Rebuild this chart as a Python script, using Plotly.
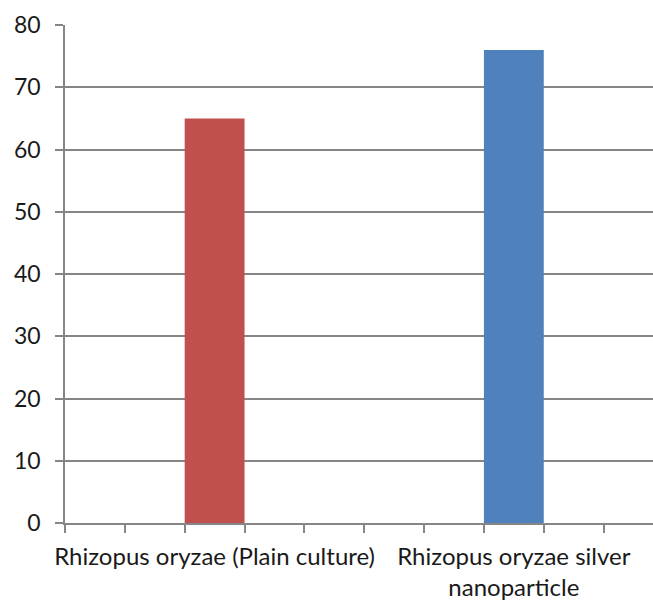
import plotly.graph_objects as go

categories = ["Rhizopus oryzae (Plain culture)", "Rhizopus oryzae silver nanoparticle"]
tick_labels = ["Rhizopus oryzae (Plain culture)", "Rhizopus oryzae silver<br>nanoparticle"]
values = [65, 76]
bar_colors = ["#C0504D", "#4F81BD"]
y_ticks = [0, 10, 20, 30, 40, 50, 60, 70, 80]

positions = list(range(len(categories)))

fig = go.Figure(
    go.Bar(
        x=positions,
        y=values,
        marker=dict(color=bar_colors, line=dict(width=0)),
        width=0.2,
        hovertext=categories,
    )
)

axis_col = "#868686"
font_col = "#1a1a1a"

fig.update_layout(
    width=653,
    height=602,
    margin=dict(l=65, r=0, t=25, b=79),
    paper_bgcolor="white",
    plot_bgcolor="white",
    showlegend=False,
    font=dict(family="Lato", size=24, color=font_col),
    xaxis=dict(
        range=[-0.5, 1.465],
        tickmode="array",
        tickvals=positions,
        ticktext=tick_labels,
        ticks="",
        showgrid=False,
        zeroline=False,
        showline=True,
        linecolor=axis_col,
        linewidth=1.5,
        automargin=False,
        ticklabelstandoff=11,
        tickfont=dict(family="Lato", size=24, color=font_col),
        minor=dict(
            tickmode="linear",
            tick0=-0.5,
            dtick=0.2,
            ticks="outside",
            ticklen=8,
            tickwidth=1.5,
            tickcolor=axis_col,
            showgrid=False,
        ),
    ),
    yaxis=dict(
        range=[0, 80],
        tickmode="array",
        tickvals=y_ticks,
        ticks="outside",
        ticklen=8,
        tickwidth=1.5,
        tickcolor=axis_col,
        showgrid=True,
        gridcolor=axis_col,
        gridwidth=1.5,
        zeroline=False,
        showline=True,
        linecolor=axis_col,
        linewidth=1.5,
        automargin=False,
        ticklabelstandoff=10,
        tickfont=dict(family="Lato", size=23, color=font_col),
    ),
)

fig.write_html("out.html")
